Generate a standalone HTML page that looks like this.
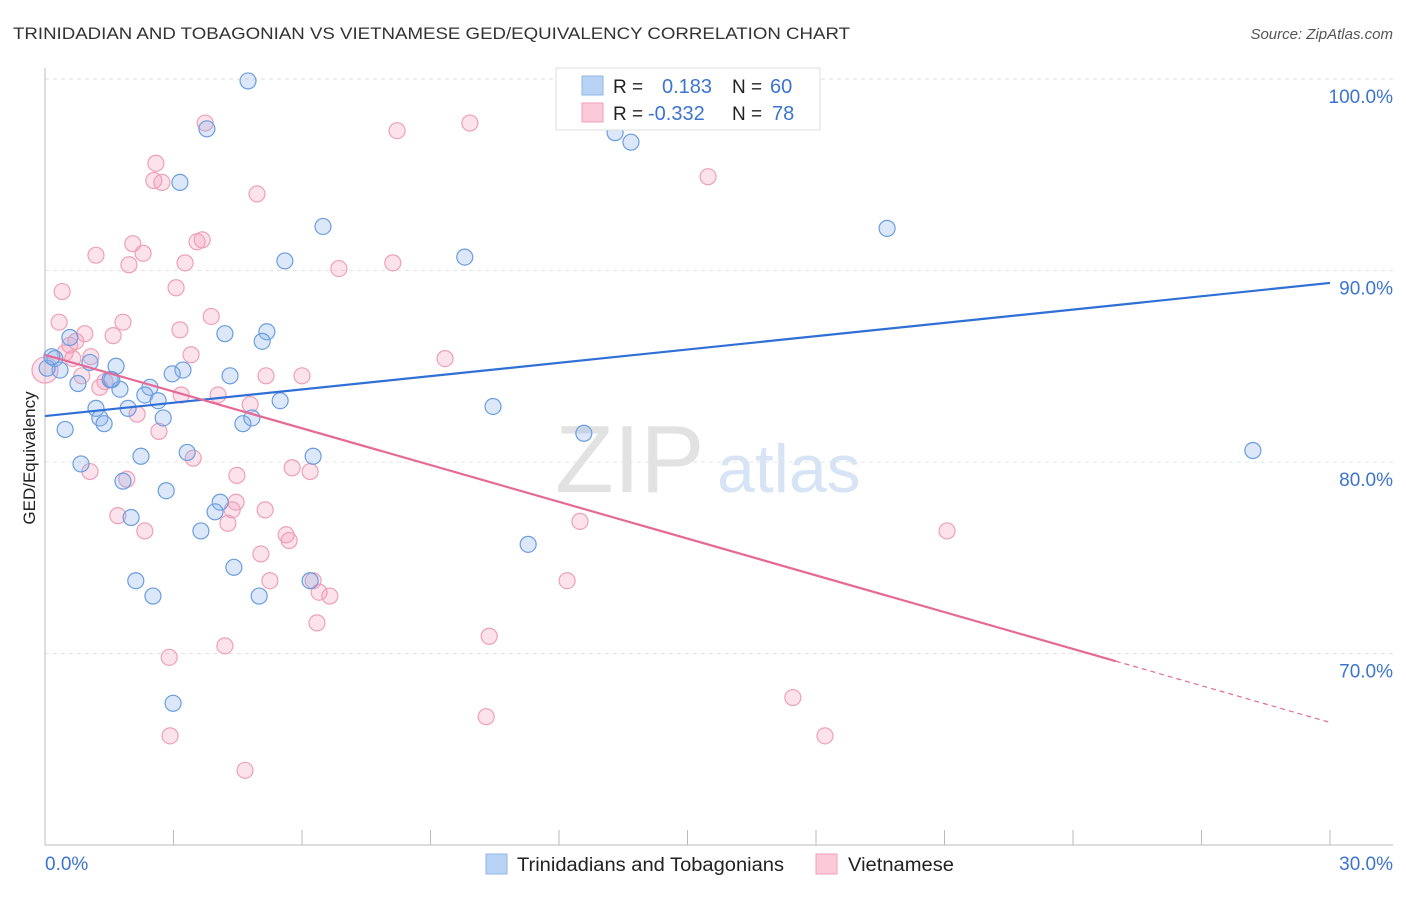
<!DOCTYPE html>
<html><head><meta charset="utf-8"><style>
body{margin:0;background:#fff;font-family:"Liberation Sans",sans-serif;}
svg text{font-family:"Liberation Sans",sans-serif;}
</style></head><body>
<svg id="c" width="1406" height="892" xmlns="http://www.w3.org/2000/svg">
<text x="13" y="39" font-size="17" fill="#333" textLength="837" lengthAdjust="spacingAndGlyphs">TRINIDADIAN AND TOBAGONIAN VS VIETNAMESE GED/EQUIVALENCY CORRELATION CHART</text>
<text x="1393" y="39" font-size="15" fill="#555" font-style="italic" text-anchor="end">Source: ZipAtlas.com</text>
<text x="35" y="458" font-size="17" fill="#222" transform="rotate(-90 35 458)" text-anchor="middle">GED/Equivalency</text>
<text x="555" y="492" font-size="96" fill="#e2e2e2" font-family="Liberation Serif">ZIP</text>
<text x="717" y="492" font-size="68" fill="#d6e4f5">atlas</text>
<g id="grid"></g><g id="axes"></g><g id="pts"></g><g id="lines"></g>
<g>
<rect x="556" y="68" width="264" height="62" fill="#fff" stroke="#ddd"/>
<rect x="582" y="76" width="21" height="19" fill="#b9d3f5" stroke="#8fb6e8"/>
<rect x="582" y="103" width="21" height="19" fill="#fbc9d8" stroke="#f0a0b8"/>
<text x="613" y="93" font-size="19" fill="#222">R =</text>
<text x="662" y="93" font-size="20" fill="#3d74d0">0.183</text>
<text x="732" y="93" font-size="19" fill="#222">N =</text>
<text x="770" y="93" font-size="20" fill="#3d74d0">60</text>
<text x="613" y="120" font-size="19" fill="#222">R =</text>
<text x="648" y="120" font-size="20" fill="#3d74d0">-0.332</text>
<text x="732" y="120" font-size="19" fill="#222">N =</text>
<text x="772" y="120" font-size="20" fill="#3d74d0">78</text>
</g>
<g>
<rect x="486" y="854" width="21" height="20" fill="#b9d3f5" stroke="#8fb6e8"/>
<text x="517" y="871" font-size="19" fill="#222" textLength="267" lengthAdjust="spacingAndGlyphs">Trinidadians and Tobagonians</text>
<rect x="816" y="854" width="21" height="20" fill="#fbc9d8" stroke="#f0a0b8"/>
<text x="848" y="871" font-size="19" fill="#222" textLength="106" lengthAdjust="spacingAndGlyphs">Vietnamese</text>
</g>
</svg>
<script>
const yTicks=[100,90,80,70];
const yTickLabels=["100.0%","90.0%","80.0%","70.0%"];
const blueX=[4.74,3.78,3.15,13.31,13.68,6.49,5.60,9.80,19.66,4.20,5.18,5.07,0.58,0.23,0.35,1.05,1.66,3.22,2.97,4.32,0.77,1.52,2.45,1.75,2.33,2.64,5.49,1.19,1.94,1.28,1.38,2.76,4.62,4.83,0.47,10.46,12.58,28.20,0.84,2.24,3.32,6.26,1.82,2.83,4.09,3.97,2.01,3.64,11.28,4.41,2.12,6.19,2.52,5.00,2.99,0.05,0.16,1.56];
const blueY=[99.9,97.4,94.6,97.2,96.7,92.3,90.5,90.7,92.2,86.7,86.8,86.3,86.5,85.4,84.8,85.2,85.0,84.8,84.6,84.5,84.1,84.3,83.9,83.8,83.5,83.2,83.2,82.8,82.8,82.3,82.0,82.3,82.0,82.3,81.7,82.9,81.5,80.6,79.9,80.3,80.5,80.3,79.0,78.5,77.9,77.4,77.1,76.4,75.7,74.5,73.8,73.8,73.0,73.0,67.4,84.9,85.5,84.3];
const pinkX=[0,3.74,9.92,8.22,2.59,2.54,2.73,4.95,15.48,1.19,2.05,2.29,3.55,3.67,3.27,1.96,6.86,8.12,0.40,3.06,0.33,1.82,3.88,3.15,0.93,1.59,0.58,0.72,0.47,1.07,3.41,9.34,0.65,0.86,5.16,6.00,1.40,1.28,4.04,3.18,2.15,4.79,2.66,3.46,5.77,6.19,1.05,4.48,1.91,4.46,5.14,4.37,1.70,4.27,12.49,21.06,2.33,5.63,5.70,5.04,5.25,12.19,6.26,6.40,6.65,6.35,10.37,4.20,2.90,17.46,10.30,2.92,18.21,4.67];
const pinkY=[84.8,97.7,97.7,97.3,95.6,94.7,94.6,94.0,94.9,90.8,91.4,90.9,91.5,91.6,90.4,90.3,90.1,90.4,88.9,89.1,87.3,87.3,87.6,86.9,86.7,86.6,86.1,86.3,85.7,85.5,85.6,85.4,85.4,84.5,84.5,84.5,84.2,83.9,83.5,83.5,82.5,83.0,81.6,80.2,79.7,79.5,79.5,79.3,79.1,77.9,77.5,77.5,77.2,76.8,76.9,76.4,76.4,76.2,75.9,75.2,73.8,73.8,73.8,73.2,73.0,71.6,70.9,70.4,69.8,67.7,66.7,65.7,65.7,63.9];
const blueTrend=[82.4,89.35];
const pinkTrend=[85.6,66.4];
const pinkSolidEnd=25.0;
const NS="http://www.w3.org/2000/svg";
const X=v=>45+v*42.833, Y=v=>79+(100-v)*19.15;
function mk(tag,at,parent){const e=document.createElementNS(NS,tag);for(const k in at)e.setAttribute(k,at[k]);parent.appendChild(e);return e;}
const grid=document.getElementById('grid'),axes=document.getElementById('axes'),pts=document.getElementById('pts'),lines=document.getElementById('lines');
mk('line',{x1:45,x2:1393,y1:79,y2:79,stroke:'#ddd','stroke-dasharray':'4,4'},grid);
yTicks.forEach((t,i)=>{
 if(i>0){const g=mk('line',{x1:45,x2:1393,y1:Y(t),y2:Y(t),stroke:'#e4e4e4','stroke-dasharray':'4,4'},grid);
 
 }
 const l=mk('text',{x:1393,y:Y(t)+24,'font-size':19,fill:'#3d74d0','text-anchor':'end'},axes);l.textContent=yTickLabels[i];
 
 
});
mk('line',{x1:45,x2:45,y1:68,y2:845,stroke:'#bbb'},axes);
mk('line',{x1:45,x2:1393,y1:845,y2:845,stroke:'#bbb'},axes);
for(let i=0;i<=10;i++){mk('line',{x1:X(i*3),x2:X(i*3),y1:830,y2:845,stroke:'#bbb'},axes);}
let t0=mk('text',{x:45,y:870,'font-size':19,fill:'#3d74d0'},axes);t0.textContent='0.0%';


let t1=mk('text',{x:1393,y:870,'font-size':19,fill:'#3d74d0','text-anchor':'end'},axes);t1.textContent='30.0%';


pinkX.forEach((x,i)=>{const c=mk('circle',{cx:X(x),cy:Y(pinkY[i]),r:i===0?13:8,fill:'rgba(245,160,188,0.3)',stroke:'#eea0b8','stroke-width':1.2},pts);
 
 });
blueX.forEach((x,i)=>{const c=mk('circle',{cx:X(x),cy:Y(blueY[i]),r:8,fill:'rgba(140,180,235,0.3)',stroke:'#6a9de0','stroke-width':1.2},pts);
 
 });
const bl=mk('line',{x1:X(0),y1:Y(blueTrend[0]),x2:X(30),y2:Y(blueTrend[1]),stroke:'#2f6fd6','stroke-width':2.2},lines);


const py=x=>pinkTrend[0]+(pinkTrend[1]-pinkTrend[0])*x/30;
const pl=mk('line',{x1:X(0),y1:Y(py(0)),x2:X(pinkSolidEnd),y2:Y(py(pinkSolidEnd)),stroke:'#e56a96','stroke-width':2.2},lines);


const pd=mk('line',{x1:X(pinkSolidEnd),y1:Y(py(pinkSolidEnd)),x2:X(30),y2:Y(py(30)),stroke:'#e56a96','stroke-width':1.2,'stroke-dasharray':'5,4'},lines);


</script>
</body></html>
